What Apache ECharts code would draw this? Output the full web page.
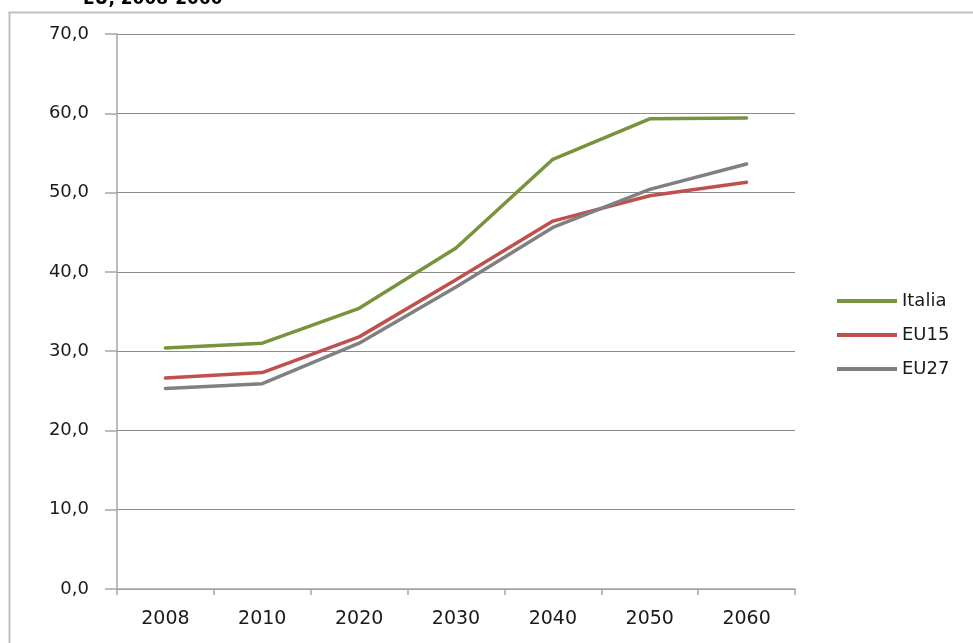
<!DOCTYPE html>
<html>
<head>
<meta charset="utf-8">
<script src="https://cdn.jsdelivr.net/npm/echarts@6/dist/echarts.min.js"></script>
<style>
  html, body { margin: 0; padding: 0; background: #fff; overflow: hidden; }
  #chart { width: 973px; height: 643px; }
</style>
</head>
<body>
<div id="chart"></div>
<script>
// Anni di proiezione
const years = ['2008', '2010', '2020', '2030', '2040', '2050', '2060'];

// Valori per area
const italia = [30.4, 31.0, 35.4, 43.0, 54.2, 59.3, 59.4];
const eu15   = [26.6, 27.3, 31.8, 39.0, 46.4, 49.6, 51.3];
const eu27   = [25.3, 25.9, 31.0, 38.1, 45.6, 50.4, 53.6];

const seriesNames  = ['Italia', 'EU15', 'EU27'];
const seriesColors = ['#77933C', '#C0504D', '#808080'];

const chart = echarts.init(document.getElementById('chart'));

const values = [italia, eu15, eu27];

chart.setOption({
  backgroundColor: '#ffffff',
  animation: false,
  graphic: [
    {
      // cornice: lato sinistro
      type: 'line',
      shape: { x1: 9.5, y1: 12, x2: 9.5, y2: 643 },
      style: { stroke: '#bfbfbf', lineWidth: 2 }
    },
    {
      // cornice: lato superiore
      type: 'line',
      shape: { x1: 8.5, y1: 12.5, x2: 973, y2: 12.5 },
      style: { stroke: '#bfbfbf', lineWidth: 2 }
    },
    {
      type: 'text',
      left: 83,
      top: -9,
      style: {
        text: 'EU, 2008-2060',
        font: 'bold 17px "DejaVu Sans"',
        fill: '#000'
      }
    }
  ],
  grid: { left: 117, right: 178, top: 34, bottom: 54 },
  legend: {
    orient: 'vertical',
    left: 832,
    top: 287,
    icon: 'rect',
    itemWidth: 60,
    itemHeight: 4,
    itemGap: 16,
    data: seriesNames,
    textStyle: { fontFamily: 'DejaVu Sans', fontSize: 18, color: '#1a1a1a' }
  },
  xAxis: {
    type: 'category',
    data: years,
    boundaryGap: true,
    axisLine: { lineStyle: { color: '#a6a6a6', width: 1.5 } },
    axisTick: { show: true, length: 6, lineStyle: { color: '#a6a6a6', width: 1.5 } },
    axisLabel: { margin: 21, fontFamily: 'DejaVu Sans', fontSize: 19, color: '#1a1a1a' },
    splitLine: { show: false }
  },
  yAxis: {
    type: 'value',
    min: 0,
    max: 70,
    interval: 10,
    axisLine: { show: true, lineStyle: { color: '#a6a6a6', width: 1.5 } },
    axisTick: { show: true, inside: false, length: 12, lineStyle: { color: '#a6a6a6', width: 1.5 } },
    axisLabel: {
      margin: 28,
      fontFamily: 'DejaVu Sans',
      fontSize: 18,
      color: '#1a1a1a',
      formatter: v => v.toFixed(1).replace('.', ',')
    },
    splitLine: { show: true, lineStyle: { color: '#8c8c8c', width: 1 } }
  },
  series: seriesNames.map((name, i) => ({
    name: name,
    type: 'line',
    data: values[i],
    symbol: 'none',
    smooth: false,
    color: seriesColors[i],
    lineStyle: { width: 3.5, color: seriesColors[i], cap: 'round', join: 'round' }
  }))
});
</script>
</body>
</html>
